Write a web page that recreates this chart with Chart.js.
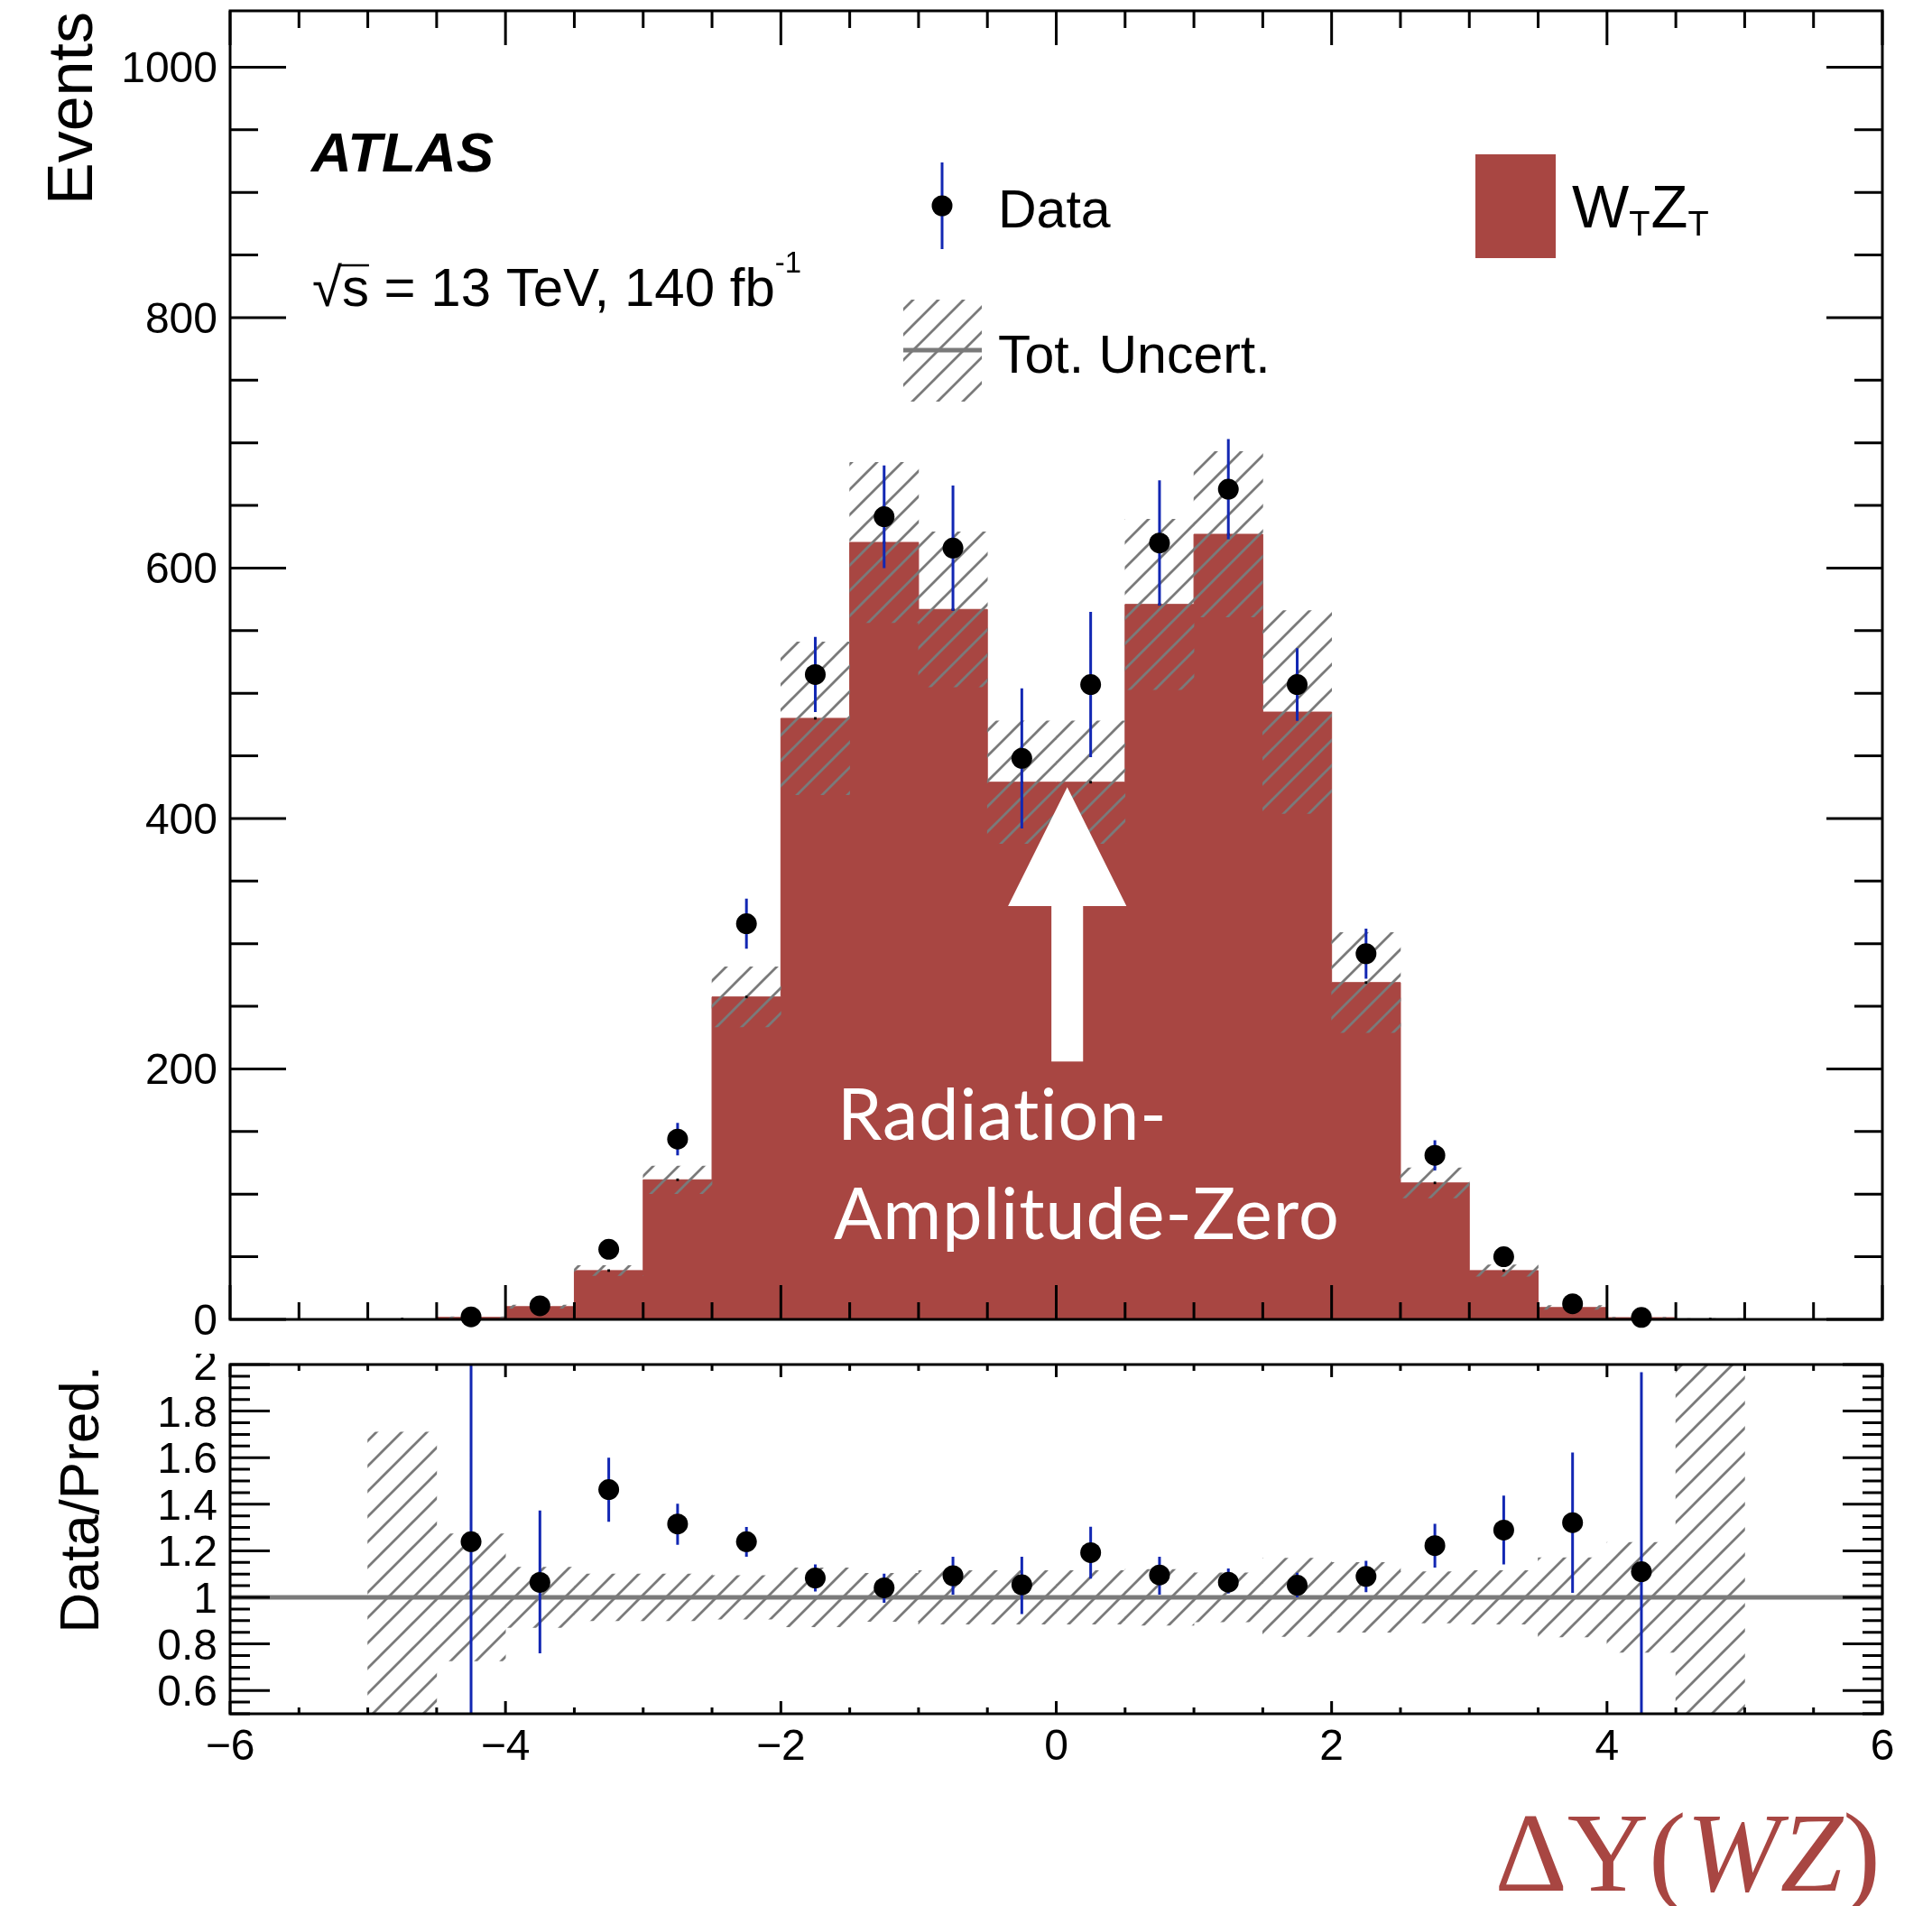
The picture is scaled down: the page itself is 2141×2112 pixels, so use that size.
<!DOCTYPE html>
<html>
<head>
<meta charset="utf-8">
<title>Delta Y(WZ) - ATLAS</title>
<script src="https://cdn.jsdelivr.net/npm/chart.js@4.4.1/dist/chart.umd.min.js"></script>
<style>
    html, body { margin: 0; padding: 0; background: #ffffff; }
    #wrap { position: relative; width: 2141px; height: 2112px; overflow: hidden; }
    canvas { position: absolute; left: 0; }
    #mainCanvas { top: 0; }
    #ratioCanvas { top: 1500px; }
</style>
</head>
<body>
<div id="wrap">
    <canvas id="mainCanvas" width="2141" height="1500"></canvas>
    <canvas id="ratioCanvas" width="2141" height="612"></canvas>
</div>
<script>
// --- values ---
const binEdges = [-5, -4.5, -4, -3.5, -3, -2.5, -2, -1.5, -1, -0.5, 0, 0.5, 1, 1.5, 2, 2.5, 3, 3.5, 4, 4.5, 5];
const binCenters = [-4.75, -4.25, -3.75, -3.25, -2.75, -2.25, -1.75, -1.25, -0.75, -0.25,
                    0.25, 0.75, 1.25, 1.75, 2.25, 2.75, 3.25, 3.75, 4.25, 4.75];
const predWTZT = [0.3, 1.6, 10.2, 39, 111.5, 257.5, 480, 620.5, 567, 429,
                  429, 571, 627, 485, 269, 109, 39, 9.5, 1.4, 0.3];
const predUncert = [0.2, 0.45, 1.3, 4, 11, 24, 61, 64, 62, 49,
                    49, 68, 66, 81, 40, 12, 4.5, 1.6, 0.35, 0.3];

const dataCenters = [-4.25, -3.75, -3.25, -2.75, -2.25, -1.75, -1.25, -0.75, -0.25,
                     0.25, 0.75, 1.25, 1.75, 2.25, 2.75, 3.25, 3.75, 4.25];
const dataEvents = [2.0, 10.9, 56, 144, 316, 515, 641, 616, 448,
                    507, 620, 663, 507, 292, 131, 50, 12.5, 1.6];
const dataErrUp = [1.5, 3.3, 5.4, 13, 20, 30, 41, 50, 56,
                   58, 50, 40, 29, 20, 12, 5.8, 2.9, 1.2];
const dataErrDown = [1.6, 3.1, 5.4, 13, 20, 30, 41, 50, 56,
                     58, 50, 40, 29, 20, 12, 5.8, 2.9, 1.4];

const ratioValues = [1.239, 1.064, 1.463, 1.315, 1.239, 1.083, 1.041, 1.093, 1.054,
                     1.192, 1.096, 1.065, 1.052, 1.09, 1.222, 1.289, 1.321, 1.11];
const ratioErrUp = [1.2, 0.309, 0.137, 0.087, 0.063, 0.058, 0.061, 0.081, 0.12,
                    0.111, 0.078, 0.059, 0.054, 0.067, 0.094, 0.148, 0.301, 0.857];
const ratioErrDown = [1.0, 0.304, 0.138, 0.089, 0.065, 0.058, 0.064, 0.081, 0.126,
                      0.112, 0.084, 0.049, 0.052, 0.068, 0.094, 0.148, 0.302, 1.0];
const ratioBand = [0.71, 0.273, 0.13, 0.10, 0.10, 0.094, 0.127, 0.103, 0.115, 0.115,
                   0.115, 0.12, 0.105, 0.168, 0.15, 0.11, 0.115, 0.17, 0.236, 1.6];

const xTicks = [-6, -4, -2, 0, 2, 4, 6];
const xTickLabels = ['\u22126', '\u22124', '\u22122', '0', '2', '4', '6'];
const eventTicks = [0, 200, 400, 600, 800, 1000];
const eventTickLabels = ['0', '200', '400', '600', '800', '1000'];
const ratioTicks = [0.6, 0.8, 1, 1.2, 1.4, 1.6, 1.8, 2];
const ratioTickLabels = ['0.6', '0.8', '1', '1.2', '1.4', '1.6', '1.8', '2'];

const WZ_RED = '#a84642';
const ERR_BLUE = '#1227b3';
const HATCH_GREY = '#7a7a7a';
const SANS = '"Liberation Sans", Arial, Helvetica, sans-serif';

function makeHatch(ctx) {
    const size = 28;
    const tile = document.createElement('canvas');
    tile.width = size;
    tile.height = size;
    const g = tile.getContext('2d');
    g.strokeStyle = HATCH_GREY;
    g.lineWidth = 2.8;
    g.beginPath();
    g.moveTo(0, size); g.lineTo(size, 0);
    g.moveTo(-size / 2, size / 2); g.lineTo(size / 2, -size / 2);
    g.moveTo(size / 2, size * 1.5); g.lineTo(size * 1.5, size / 2);
    g.stroke();
    return ctx.createPattern(tile, 'repeat');
}

function tickValues(min, max, step) {
    const out = [];
    for (let i = Math.ceil(min / step - 1e-9); i <= Math.floor(max / step + 1e-9); i++) {
        out.push(Math.round(i * step * 1e6) / 1e6);
    }
    return out;
}

function isMultiple(v, step) {
    const q = v / step;
    return Math.abs(q - Math.round(q)) < 1e-6;
}

// ROOT-style frame: ticks pointing inwards on all four sides
function framePlugin(spec) {
    return {
        id: 'rootFrame',
        afterDraw(chart) {
            const { ctx, chartArea: a } = chart;
            const x = chart.scales.x;
            const y = chart.scales.y;
            ctx.save();
            ctx.strokeStyle = '#000';
            ctx.lineWidth = 3;
            ctx.beginPath();
            tickValues(x.min, x.max, spec.xMinor).forEach(v => {
                const px = x.getPixelForValue(v);
                const len = isMultiple(v, spec.xMajor) ? spec.xMajorLen : spec.xMinorLen;
                ctx.moveTo(px, a.bottom); ctx.lineTo(px, a.bottom - len);
                ctx.moveTo(px, a.top); ctx.lineTo(px, a.top + len);
            });
            tickValues(y.min, y.max, spec.yMinor).forEach(v => {
                const py = y.getPixelForValue(v);
                const len = isMultiple(v, spec.yMajor) ? spec.yMajorLen : spec.yMinorLen;
                ctx.moveTo(a.left, py); ctx.lineTo(a.left + len, py);
                ctx.moveTo(a.right, py); ctx.lineTo(a.right - len, py);
            });
            ctx.stroke();
            ctx.strokeRect(a.left, a.top, a.right - a.left, a.bottom - a.top);

            ctx.fillStyle = '#000';
            ctx.font = '48px ' + SANS;
            ctx.textBaseline = 'alphabetic';
            ctx.textAlign = 'right';
            spec.yTicks.forEach((v, i) => {
                ctx.fillText(spec.yLabels[i], a.left - 14, y.getPixelForValue(v) + 17);
            });
            if (spec.xLabels) {
                ctx.textAlign = 'center';
                spec.xTicks.forEach((v, i) => {
                    ctx.fillText(spec.xLabels[i], x.getPixelForValue(v), a.bottom + 51);
                });
            }

            // rotated axis title, aligned to the top of the frame
            ctx.save();
            ctx.translate(spec.titleX, a.top + 1);
            ctx.rotate(-Math.PI / 2);
            ctx.textAlign = 'right';
            ctx.font = spec.titleFont;
            ctx.fillText(spec.title, 0, 0);
            ctx.restore();
            ctx.restore();
        }
    };
}

// vertical error bars drawn just before the marker dataset
function errorBarPlugin(datasetIndex, centers, values, up, down) {
    return {
        id: 'errorBars',
        beforeDatasetDraw(chart, args) {
            if (args.index !== datasetIndex) return;
            const { ctx, chartArea: a } = chart;
            const x = chart.scales.x;
            const y = chart.scales.y;
            ctx.save();
            ctx.beginPath();
            ctx.rect(a.left, a.top, a.right - a.left, a.bottom - a.top);
            ctx.clip();
            if (chart.options.plugins.refLine) {
                const py = y.getPixelForValue(chart.options.plugins.refLine.value);
                ctx.strokeStyle = HATCH_GREY;
                ctx.lineWidth = 5;
                ctx.beginPath();
                ctx.moveTo(a.left, py); ctx.lineTo(a.right, py);
                ctx.stroke();
            }
            ctx.strokeStyle = ERR_BLUE;
            ctx.lineWidth = 3;
            ctx.beginPath();
            centers.forEach((c, i) => {
                const px = x.getPixelForValue(c);
                ctx.moveTo(px, y.getPixelForValue(values[i] + up[i]));
                ctx.lineTo(px, y.getPixelForValue(values[i] - down[i]));
            });
            ctx.stroke();
            ctx.restore();
        }
    };
}

function drawSubText(ctx, parts, x, baseline) {
    let cx = x;
    parts.forEach(p => {
        ctx.font = p.font;
        ctx.fillText(p.text, cx, baseline + (p.dy || 0));
        cx += ctx.measureText(p.text).width + (p.gap || 0);
    });
    return cx;
}

const annotationPlugin = {
    id: 'annotations',
    afterDraw(chart) {
        const { ctx } = chart;
        const x = chart.scales.x;
        const y = chart.scales.y;
        const hatch = chart.$hatch;
        ctx.save();

        // white arrow pointing at the dip
        const unit = x.getPixelForValue(1) - x.getPixelForValue(0);
        const tipX = x.getPixelForValue(0.08);
        const tipY = y.getPixelForValue(425);
        const headY = y.getPixelForValue(330);
        const headHalf = 0.43 * unit;
        const shaftHalf = 0.115 * unit;
        const shaftBottom = y.getPixelForValue(206);
        ctx.fillStyle = '#ffffff';
        ctx.beginPath();
        ctx.moveTo(tipX, tipY);
        ctx.lineTo(tipX + headHalf, headY);
        ctx.lineTo(tipX + shaftHalf, headY);
        ctx.lineTo(tipX + shaftHalf, shaftBottom);
        ctx.lineTo(tipX - shaftHalf, shaftBottom);
        ctx.lineTo(tipX - shaftHalf, headY);
        ctx.lineTo(tipX - headHalf, headY);
        ctx.closePath();
        ctx.fill();

        ctx.font = '79px Lato, "Open Sans", sans-serif';
        ctx.letterSpacing = '1px';
        ctx.textAlign = 'left';
        ctx.textBaseline = 'alphabetic';
        ctx.fillText('Radiation-', 928, 1263);
        ctx.fillText('Amplitude-Zero', 924, 1373);
        ctx.letterSpacing = '0px';

        // ATLAS label
        ctx.fillStyle = '#000';
        ctx.font = 'italic bold 62px ' + SANS;
        ctx.fillText('ATLAS', 345, 190);
        let cx = drawSubText(ctx, [{ text: '\u221A', font: '60px ' + SANS }], 346, 339);
        ctx.font = '60px ' + SANS;
        const sW = ctx.measureText('s').width;
        ctx.lineWidth = 2.5;
        ctx.strokeStyle = '#000';
        ctx.beginPath();
        ctx.moveTo(cx - 2, 294); ctx.lineTo(cx + sW, 294);
        ctx.stroke();
        drawSubText(ctx, [
            { text: 's = 13 TeV, 140 fb', font: '60px ' + SANS },
            { text: '-1', font: '33px ' + SANS, dy: -37 }
        ], cx, 339);

        // legend: Data
        ctx.strokeStyle = ERR_BLUE;
        ctx.lineWidth = 3;
        ctx.beginPath();
        ctx.moveTo(1044, 180); ctx.lineTo(1044, 276);
        ctx.stroke();
        ctx.fillStyle = '#000';
        ctx.beginPath();
        ctx.arc(1044, 228, 11.5, 0, Math.PI * 2);
        ctx.fill();
        ctx.font = '59px ' + SANS;
        ctx.fillText('Data', 1106, 252);

        // legend: Tot. Uncert.
        ctx.fillStyle = hatch;
        ctx.fillRect(1001, 332, 87, 113);
        ctx.strokeStyle = HATCH_GREY;
        ctx.lineWidth = 5;
        ctx.beginPath();
        ctx.moveTo(1001, 388); ctx.lineTo(1088, 388);
        ctx.stroke();
        ctx.fillStyle = '#000';
        ctx.fillText('Tot. Uncert.', 1106, 413);

        // legend: WTZT
        ctx.fillStyle = WZ_RED;
        ctx.fillRect(1635, 171, 89, 115);
        ctx.fillStyle = '#000';
        drawSubText(ctx, [
            { text: 'W', font: '67px ' + SANS },
            { text: 'T', font: '38px ' + SANS, dy: 9, gap: 1 },
            { text: 'Z', font: '67px ' + SANS },
            { text: 'T', font: '38px ' + SANS, dy: 9 }
        ], 1742, 252);
        ctx.restore();
    }
};

const xTitlePlugin = {
    id: 'xTitle',
    afterDraw(chart) {
        const { ctx } = chart;
        const serif = '125px "Liberation Serif", "Times New Roman", serif';
        const parts = [
            { text: '\u0394Y(', font: serif },
            { text: 'WZ', font: 'italic ' + serif },
            { text: ')', font: serif }
        ];
        ctx.save();
        let total = 0;
        parts.forEach(p => { ctx.font = p.font; total += ctx.measureText(p.text).width; });
        ctx.fillStyle = WZ_RED;
        ctx.textAlign = 'left';
        ctx.textBaseline = 'alphabetic';
        drawSubText(ctx, parts, 2084 - total, 595);
        ctx.restore();
    }
};

function baseOptions(padding, yMin, yMax, extraPlugins) {
    return {
        responsive: false,
        animation: false,
        devicePixelRatio: 1,
        layout: { padding },
        plugins: Object.assign({ legend: { display: false }, tooltip: { enabled: false } }, extraPlugins || {}),
        scales: {
            x: { type: 'linear', min: -6, max: 6, offset: false, display: false },
            y: { type: 'linear', min: yMin, max: yMax, display: false }
        }
    };
}

// ---------- main panel ----------
const mainCtx = document.getElementById('mainCanvas').getContext('2d');
const hatchMain = makeHatch(mainCtx);

const histPoints = binEdges.map((e, i) => ({ x: e, y: predWTZT[Math.min(i, predWTZT.length - 1)] }));

const mainChart = new Chart(mainCtx, {
    type: 'bar',
    data: {
        datasets: [
            {
                type: 'line',
                label: 'WTZT',
                data: histPoints,
                stepped: 'before',
                fill: 'origin',
                backgroundColor: WZ_RED,
                borderColor: WZ_RED,
                borderWidth: 1,
                pointRadius: 0,
                order: 4
            },
            {
                type: 'bar',
                label: 'Tot. Uncert.',
                data: binCenters.map((c, i) => ({ x: c, y: [predWTZT[i] - predUncert[i], predWTZT[i] + predUncert[i]] })),
                backgroundColor: hatchMain,
                borderWidth: 0,
                barPercentage: 1,
                categoryPercentage: 1,
                grouped: false,
                order: 3
            },
            {
                type: 'line',
                label: 'pred markers',
                data: binCenters.map((c, i) => ({ x: c, y: predWTZT[i] })),
                showLine: false,
                pointStyle: 'rect',
                pointRadius: 2,
                pointBackgroundColor: '#000',
                pointBorderWidth: 0,
                order: 2
            },
            {
                type: 'line',
                label: 'Data',
                data: dataCenters.map((c, i) => ({ x: c, y: dataEvents[i] })),
                showLine: false,
                pointRadius: 11.5,
                pointBackgroundColor: '#000',
                pointBorderWidth: 0,
                clip: false,
                order: 1
            }
        ]
    },
    options: baseOptions({ left: 255, right: 55, top: 12, bottom: 38 }, 0, 1045),
    plugins: [
        errorBarPlugin(3, dataCenters, dataEvents, dataErrUp, dataErrDown),
        framePlugin({
            xMinor: 0.5, xMajor: 2, xMajorLen: 38, xMinorLen: 19,
            yMinor: 50, yMajor: 200, yMajorLen: 62, yMinorLen: 31,
            yTicks: eventTicks, yLabels: eventTickLabels,
            title: 'Events', titleX: 102, titleFont: '70px ' + SANS
        }),
        annotationPlugin
    ]
});
mainChart.$hatch = hatchMain;
mainChart.draw();

// ---------- ratio panel ----------
const ratioCtx = document.getElementById('ratioCanvas').getContext('2d');
const hatchRatio = makeHatch(ratioCtx);

const ratioChart = new Chart(ratioCtx, {
    type: 'bar',
    data: {
        datasets: [
            {
                type: 'bar',
                label: 'Tot. Uncert.',
                data: binCenters.map((c, i) => ({ x: c, y: [1 - ratioBand[i], 1 + ratioBand[i]] })),
                backgroundColor: hatchRatio,
                borderWidth: 0,
                barPercentage: 1,
                categoryPercentage: 1,
                grouped: false,
                clip: 0,
                order: 2
            },
            {
                type: 'line',
                label: 'Data/Pred.',
                data: dataCenters.map((c, i) => ({ x: c, y: ratioValues[i] })),
                showLine: false,
                pointRadius: 11.5,
                pointBackgroundColor: '#000',
                pointBorderWidth: 0,
                order: 1
            }
        ]
    },
    options: baseOptions({ left: 255, right: 55, top: 12, bottom: 213 }, 0.5, 2, { refLine: { value: 1 } }),
    plugins: [
        errorBarPlugin(1, dataCenters, ratioValues, ratioErrUp, ratioErrDown),
        framePlugin({
            xMinor: 0.5, xMajor: 2, xMajorLen: 14, xMinorLen: 7,
            yMinor: 0.05, yMajor: 0.2, yMajorLen: 44, yMinorLen: 22,
            yTicks: ratioTicks, yLabels: ratioTickLabels,
            xTicks: xTicks, xLabels: xTickLabels,
            title: 'Data/Pred.', titleX: 109, titleFont: '62px ' + SANS
        }),
        xTitlePlugin
    ]
});
</script>
</body>
</html>
